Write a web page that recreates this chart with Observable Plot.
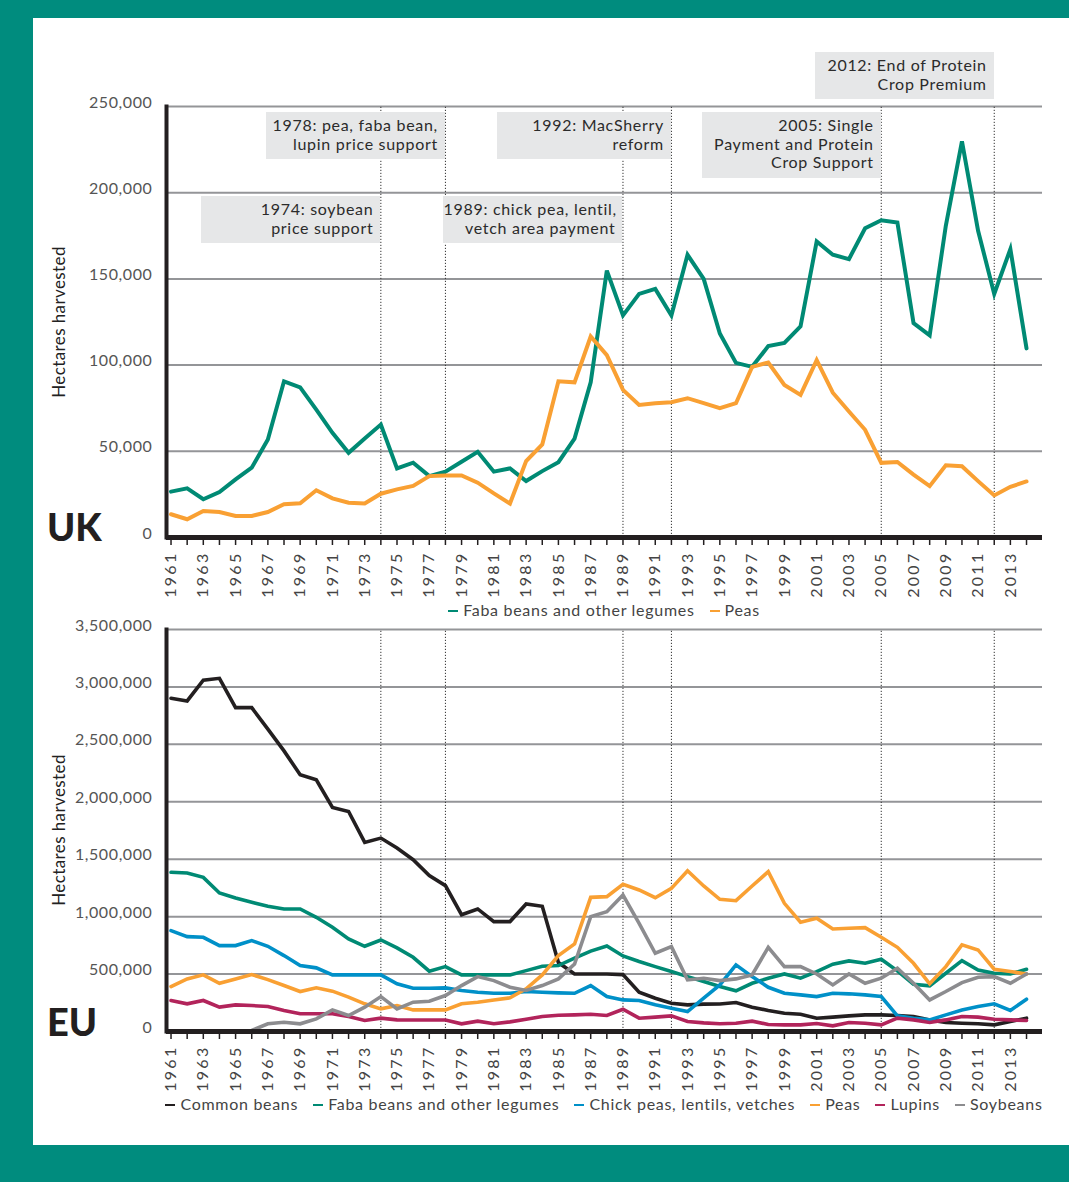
<!DOCTYPE html>
<html><head><meta charset="utf-8">
<script src="https://cdn.jsdelivr.net/npm/d3@7"></script>
<script src="https://cdn.jsdelivr.net/npm/@observablehq/plot@0.6"></script>
<style>
html,body{margin:0;padding:0;}
body{width:1069px;height:1182px;background:#008c7e;position:relative;overflow:hidden;font-family:Lato,"Open Sans",sans-serif;}
#panel{position:absolute;left:33px;top:18px;width:1036px;height:1127px;background:#fff;}
.abs{position:absolute;}
.box{position:absolute;background:#e6e7e8;color:#2b2b2b;font-size:16px;letter-spacing:0.7px;line-height:18.5px;text-align:right;box-sizing:border-box;padding:4px 7px 0 0;white-space:pre;}
.legend{position:absolute;left:166px;width:876px;display:flex;justify-content:center;gap:15px;font-size:16px;letter-spacing:0.7px;color:#444;white-space:nowrap;}
.legend span.sw{display:inline-block;width:10px;height:2.5px;vertical-align:middle;margin-right:5px;position:relative;top:-1px;}
.big{position:absolute;left:47px;font-size:38px;font-weight:900;color:#231f20;line-height:1;}
</style></head><body>
<div id="panel"></div>
<div id="root"></div>
<script>
// ---------- data ----------
const years = d3.range(1961, 2015);
const labelYears = [1961,1963,1965,1967,1969,1971,1973,1975,1977,1979,1981,1983,1985,1987,1989,1991,1993,1995,1997,1999,2001,2003,2005,2007,2009,2011,2013];
const policyYears = [1974, 1978, 1989, 1992, 2005, 2012];
const policyTexts = [
  "1974: soybean\nprice support",
  "1978: pea, faba bean,\nlupin price support",
  "1989: chick pea, lentil,\nvetch area payment",
  "1992: MacSherry\nreform",
  "2005: Single\nPayment and Protein\nCrop Support",
  "2012: End of Protein\nCrop Premium"
];
const ukTicks = [0, 50000, 100000, 150000, 200000, 250000];
const euTicks = [0, 500000, 1000000, 1500000, 2000000, 2500000, 3000000, 3500000];

const ukFaba = [26600, 28500, 22200, 26400, 33700, 40500, 56800, 90600, 87100, 74200,
  60700, 49100, 57400, 65500, 40100, 43400, 35600, 38200, 43900, 49700,
  38200, 40100, 32800, 38500, 43700, 57400, 90000, 154800, 128800, 141300,
  144200, 128800, 164000, 150000, 118300, 101300, 99000, 111000, 112900, 122500,
  171700, 164000, 161500, 179400, 184000, 182700, 124400, 117300, 180800, 229800,
  177900, 141300, 167300, 109700];
const ukPeas = [13500, 10600, 15400, 14800, 12500, 12500, 14800, 19300, 19800, 27400,
  22700, 20200, 19700, 25400, 27900, 29900, 35600, 36000, 36000, 31800,
  25600, 19700, 44300, 54000, 90600, 90000, 116600, 105800, 85600, 76900,
  77900, 78500, 80800, 77900, 75000, 77900, 99000, 101500, 88500, 82700,
  102900, 84000, 73100, 62500, 43300, 43800, 36500, 29800, 41900, 41300,
  32700, 24400, 29400, 32500];

const euCommon = [2901000, 2878000, 3058000, 3075000, 2820000, 2820000, 2632000, 2443000, 2235000, 2191000,
  1951000, 1916000, 1646000, 1684000, 1597000, 1496000, 1357000, 1270000, 1017000, 1067000,
  957000, 957000, 1110000, 1090000, 600000, 500000, 500000, 500000, 495000, 342000,
  290000, 246000, 232000, 238000, 240000, 252000, 212000, 183000, 159000, 150000,
  116000, 125000, 136000, 145000, 145000, 139000, 130000, 101000, 78000, 72000,
  67000, 58000, 87000, 116000];
const euFaba = [1386000, 1380000, 1342000, 1206000, 1162000, 1125000, 1090000, 1067000, 1067000, 994000,
  907000, 806000, 742000, 797000, 728000, 646000, 525000, 565000, 493000, 493000,
  493000, 493000, 530000, 568000, 574000, 638000, 700000, 745000, 658000, 609000,
  565000, 522000, 478000, 435000, 391000, 354000, 420000, 464000, 501000, 464000,
  522000, 586000, 615000, 594000, 629000, 528000, 412000, 397000, 507000, 617000,
  536000, 507000, 501000, 542000];
const euChick = [878000, 826000, 820000, 748000, 748000, 791000, 742000, 661000, 574000, 554000,
  493000, 493000, 493000, 493000, 415000, 377000, 377000, 380000, 357000, 342000,
  333000, 333000, 348000, 342000, 336000, 333000, 400000, 304000, 275000, 270000,
  232000, 203000, 174000, 290000, 406000, 580000, 478000, 385000, 333000, 319000,
  304000, 333000, 328000, 319000, 304000, 136000, 116000, 101000, 145000, 188000,
  217000, 241000, 183000, 281000];
const euPeas = [391000, 458000, 493000, 420000, 458000, 496000, 452000, 400000, 348000, 380000,
  351000, 299000, 241000, 197000, 226000, 188000, 188000, 188000, 241000, 255000,
  275000, 293000, 371000, 493000, 661000, 762000, 1168000, 1174000, 1281000, 1232000,
  1165000, 1246000, 1400000, 1267000, 1151000, 1139000, 1267000, 1391000, 1116000, 951000,
  986000, 893000, 899000, 904000, 820000, 733000, 594000, 415000, 565000, 754000,
  710000, 542000, 522000, 501000];
const euLupins = [270000, 241000, 270000, 212000, 232000, 226000, 217000, 183000, 154000, 154000,
  154000, 130000, 96000, 116000, 101000, 100000, 100000, 100000, 67000, 90000,
  67000, 84000, 107000, 130000, 142000, 145000, 150000, 139000, 194000, 116000,
  125000, 136000, 87000, 75000, 67000, 72000, 90000, 61000, 58000, 58000,
  70000, 49000, 78000, 72000, 58000, 116000, 101000, 78000, 101000, 130000,
  125000, 107000, 101000, 96000];
const euSoy = [0, 0, 0, 0, 0, 9000, 67000, 81000, 67000, 110000,
  188000, 139000, 212000, 304000, 197000, 255000, 264000, 313000, 400000, 478000,
  443000, 386000, 357000, 400000, 458000, 588000, 1000000, 1043000, 1188000, 942000,
  681000, 739000, 449000, 464000, 443000, 458000, 493000, 733000, 565000, 565000,
  501000, 406000, 501000, 420000, 464000, 551000, 420000, 275000, 348000, 426000,
  472000, 478000, 420000, 501000];

const ukNames = ["Faba beans and other legumes", "Peas"];
const euNames = ["Common beans", "Faba beans and other legumes", "Chick peas, lentils, vetches", "Peas", "Lupins", "Soybeans"];

// ---------- styles ----------
const colors = {
  "Common beans": "#231f20",
  "Faba beans and other legumes": "#008a74",
  "Chick peas, lentils, vetches": "#0090c8",
  "Peas": "#f9a033",
  "Lupins": "#b2245b",
  "Soybeans": "#8c8c8f"
};
const W = 1069;
const xDomain = [1960.72, 2014.99];

function makeLong(names, arrays) {
  return names.flatMap((n, k) => years.map((yr, i) => ({series: n, year: yr, value: arrays[k][i]})));
}

function chart({height, marginTop, marginBottom, yTicks, names, arrays, lineWidth}) {
  const data = makeLong(names, arrays);
  const yMax = yTicks[yTicks.length - 1];
  return Plot.plot({
    width: W, height, marginTop, marginBottom, marginLeft: 166, marginRight: 27,
    style: {background: "transparent", fontFamily: "Lato, 'Open Sans', sans-serif", overflow: "visible", color: "#444"},
    x: {domain: xDomain},
    y: {domain: [0, yMax]},
    marks: [
      Plot.gridY(yTicks, {stroke: "#949598", strokeOpacity: 1, strokeWidth: 2}),
      Plot.ruleX(policyYears, {x: d => d, y1: 0, y2: yMax, stroke: "#333", strokeWidth: 1, strokeDasharray: "1.2,1.8"}),
      ...names.map(n => Plot.line(data.filter(d => d.series === n), {
        x: "year", y: "value", stroke: colors[n], strokeWidth: lineWidth,
        strokeLinejoin: "miter", strokeMiterlimit: 4, curve: "linear"
      })),
      Plot.ruleY([0], {stroke: "#231f20", strokeWidth: 5}),
      Plot.frame({anchor: "left", stroke: "#231f20", strokeWidth: 4}),
      Plot.axisY(yTicks, {
        tickFormat: d3.format(","), tickSize: 0, tickPadding: 14, fontSize: 16, dy: -4,
        label: null, fill: "#555"
      }),
      Plot.axisX(years, {
        tickSize: 8, tickPadding: 6, tickRotate: -90, strokeWidth: 1.5, stroke: "#231f20",
        tickFormat: y => labelYears.includes(y) ? String(y) : "",
        fontSize: 16, fill: "#444", label: null
      })
    ]
  });
}

const root = document.getElementById("root");

// UK chart
const uk = chart({height: 600, marginTop: 106, marginBottom: 63, yTicks: ukTicks,
  names: ukNames, arrays: [ukFaba, ukPeas], lineWidth: 4});
uk.style.position = "absolute"; uk.style.left = "0px"; uk.style.top = "0px";
root.appendChild(uk);

// EU chart
const eu = chart({height: 485, marginTop: 19, marginBottom: 64, yTicks: euTicks,
  names: euNames, arrays: [euCommon, euFaba, euChick, euPeas, euLupins, euSoy], lineWidth: 3.6});
eu.style.position = "absolute"; eu.style.left = "0px"; eu.style.top = "610px";
root.appendChild(eu);

// letter spacing of tick labels
[uk, eu].forEach(svg => {
  svg.querySelectorAll("g[aria-label='x-axis tick label'] text").forEach(t => t.style.letterSpacing = "2.3px");
  svg.querySelectorAll("g[aria-label='y-axis tick label'] text").forEach(t => t.style.letterSpacing = "0.6px");
});

// y-axis titles
function yTitle(centerY) {
  const d = document.createElement("div");
  d.textContent = "Hectares harvested";
  d.style.cssText = `position:absolute;left:58px;top:${centerY}px;font-size:17px;letter-spacing:0.4px;color:#222;white-space:nowrap;transform:translate(-50%,-50%) rotate(-90deg);`;
  root.appendChild(d);
}
yTitle(322);
yTitle(830);

// big labels
const ukL = document.createElement("div"); ukL.className = "big"; ukL.textContent = "UK"; ukL.style.top = "507px"; root.appendChild(ukL);
const euL = document.createElement("div"); euL.className = "big"; euL.textContent = "EU"; euL.style.top = "1002px"; root.appendChild(euL);

// annotations (positioned with the chart's x scale)
const xs = uk.scale("x");
const rowTop = {1974: 196, 1978: 112, 1989: 196, 1992: 112, 2005: 112, 2012: 52};
policyYears.forEach((yr, i) => {
  const right = xs.apply(yr);
  const b = document.createElement("div");
  b.className = "box";
  const lines = policyTexts[i].split("\n").length;
  const w = yr === 1992 ? 174 : 179;
  b.style.left = (right - w) + "px";
  b.style.width = w + "px";
  b.style.top = rowTop[yr] + "px";
  b.style.height = (lines === 3 ? 66 : 47) + "px";
  b.textContent = policyTexts[i];
  root.appendChild(b);
});

// legends
function legend(names, top) {
  const d = document.createElement("div");
  d.className = "legend";
  d.style.top = top + "px";
  names.forEach(n => {
    const s = document.createElement("span");
    s.innerHTML = `<span class="sw" style="background:${colors[n]}"></span>${n}`;
    d.appendChild(s);
  });
  root.appendChild(d);
}
legend(ukNames, 600);
legend(euNames, 1094);
</script>
</body></html>
